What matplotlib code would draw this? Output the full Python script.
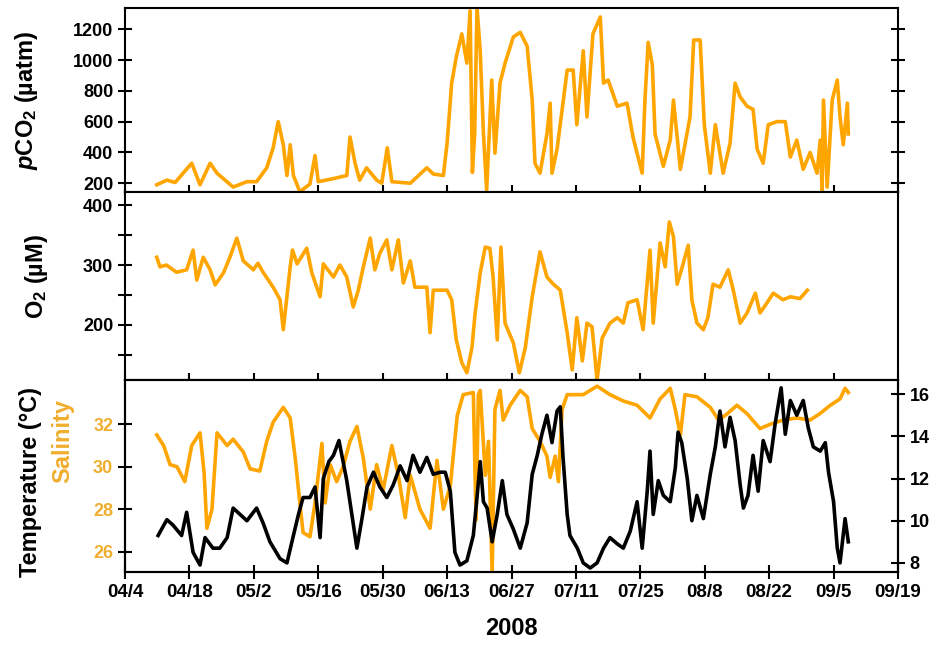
import numpy as np
import pandas as pd
import matplotlib
matplotlib.use("Agg")
import matplotlib.pyplot as plt

plt.rcParams['font.family'] = ['Liberation Sans', 'DejaVu Sans']
plt.rcParams['font.weight'] = 'bold'
plt.rcParams['axes.labelweight'] = 'bold'
plt.rcParams['mathtext.fontset'] = 'custom'
plt.rcParams['mathtext.rm'] = 'Liberation Sans:bold'
plt.rcParams['mathtext.it'] = 'Liberation Sans:bold:italic'
plt.rcParams['mathtext.bf'] = 'Liberation Sans:bold'

# --- data (days after 2008-04-04) ---
start = pd.Timestamp('2008-04-04')

pco2_day = [6.9, 9.1, 10.9, 14.5, 16.3, 18.5, 20, 23.5, 26.5, 28.6, 30.8, 32.2, 33.3, 34.4,
            35.2, 35.9, 36.6, 38, 40.2, 41.3, 42, 45.3, 48.2, 48.9, 50, 51, 52.5, 54.7, 55.8,
            57, 58, 62, 65.6, 67, 69.2, 70, 71, 72, 73.2, 74.3, 75, 75.5, 76, 76.5, 77.2, 77.9,
            78.6, 79.7, 80.4, 81.5, 82.6, 84.4, 85.9, 87.4, 88.5, 89.1, 90.2, 91.7, 92.4, 92.8,
            93.9, 96.1, 97.4, 98.2, 99.6, 100.4, 101.7, 103.3, 104, 105, 107, 109.1, 110.4,
            112.4, 113, 113.7, 114.6, 115.2, 117, 118.5, 119.2, 120.7, 122.8, 123.6, 125,
            125.9, 127.2, 128.3, 130, 131.5, 132.6, 133.7, 135.2, 136.5, 137.4, 138.7, 139.8,
            141.7, 143.5, 144.6, 146, 147.4, 148.9, 150.4, 151.1, 151.5, 151.8, 152.6, 153.7,
            154.8, 155.4, 156.1, 157, 157.2]
pco2_val = [190, 220, 205, 330, 190, 330, 265, 175, 210, 210, 300, 430, 600, 450,
            250, 450, 250, 145, 195, 380, 210, 230, 250, 500, 330, 220, 300, 220, 200,
            430, 210, 200, 300, 260, 250, 460, 850, 1020, 1170, 980, 1320, 270, 520, 1340, 1060, 525,
            155, 870, 395, 850, 980, 1150, 1180, 1090, 740, 330, 265, 520, 720, 265,
            420, 935, 935, 580, 1060, 630, 1170, 1280, 850, 870, 700, 720, 500,
            265, 740, 1115, 970, 520, 310, 480, 740, 290, 630, 1130, 1130,
            580, 265, 580, 265, 460, 850, 760, 700, 680, 420, 330, 580,
            600, 600, 370, 480, 290, 400, 265, 480, 155, 740, 175, 740,
            870, 630, 450, 720, 520]

o2_day = [6.9, 7.6, 9, 11.2, 13.4, 14.8, 15.6, 17, 18.5, 19.6, 21.4, 22.8, 24.3, 25.7, 27.9,
          28.9, 30, 32.2, 33.7, 34.4, 35.2, 35.9, 36.4, 37.4, 39.5, 40.6, 42.4, 43.1, 45.3,
          46.7, 48.2, 49.6, 50.7, 51.8, 53.3, 54.3, 55.4, 56.9, 58, 59.4, 60.5, 62, 63, 65.6,
          66.3, 67, 70, 71, 72, 73.2, 74.3, 75.4, 76.1, 77.2, 78.3, 79.3, 80, 80.9, 81.7,
          82.6, 84.4, 85.7, 87, 88.5, 90.2, 91.7, 93.1, 94.6, 96.1, 97.2, 98.2, 99.4, 100.4,
          101.5, 102.6, 103.7, 105.4, 107, 108.3, 109.3, 111.3, 112.6, 114.1, 114.8, 116.3,
          117.4, 118.3, 119.2, 120, 121.3, 122.4, 123.2, 124.3, 125.7, 126.7, 127.8, 129.3,
          131.1, 132.2, 133.7, 135.2, 137, 138, 139.1, 140.9, 143, 144.6, 146.7, 148.3]
o2_val = [313, 297, 300, 288, 292, 325, 275, 313, 292, 267, 287, 313, 345, 307, 292,
          303, 288, 263, 242, 192, 248, 297, 325, 302, 328, 287, 247, 302, 280,
          300, 280, 230, 258, 297, 345, 292, 320, 342, 292, 342, 270, 307, 263, 263,
          187, 258, 258, 242, 175, 137, 120, 162, 220, 287, 330, 328, 280, 175, 330,
          203, 170, 120, 162, 247, 322, 280, 268, 258, 187, 125, 212, 140, 203,
          197, 108, 178, 203, 212, 203, 237, 242, 192, 325, 203, 337,
          297, 372, 347, 268, 302, 333, 242, 203, 192, 213, 268, 263,
          292, 258, 203, 220, 253, 220, 232, 253, 242, 247, 244, 258]

sal_day = [6.9, 8.4, 9.8, 11.3, 13.0, 14.5, 16.3, 17.2, 17.8, 18.9, 20, 22.2, 23.5, 25.7,
           27.2, 29.3, 30.8, 32.2, 34.4, 35.9, 37, 38, 38.7, 40.2, 41.3, 42.8, 43.5, 44.6,
           46, 47.4, 48.9, 50.4, 51.8, 53.3, 54.7, 56.1, 58, 59.4, 60.9, 62, 64.1, 66.3,
           67.8, 69.2, 70.7, 72.2, 73.5, 75.7, 76.3, 76.8, 77.2, 78.3, 79, 79.8, 80.4, 81.5,
           82.2, 83.7, 85.9, 87.4, 88.5, 90.2, 91.7, 92.4, 93.5, 94.2, 95, 96.1, 99.6, 102.6,
           105.4, 108.3, 111.3, 114.1, 116.3, 118.5, 119.6, 120.7, 121.7, 124.3, 127.2, 129,
           130.9, 133, 135.2, 138, 140.2, 143, 146, 148.9, 151, 153.3, 155.4, 156.5, 157.2]
sal_val = [31.5, 31.0, 30.1, 30.0, 29.3, 31.0, 31.6, 29.7, 27.1, 28.0, 31.6, 31.0, 31.3, 30.7,
           29.9, 29.8, 31.2, 32.1, 32.8, 32.3, 30.4, 28.3, 26.9, 26.7, 28.3, 31.1, 28.3, 30.1,
           29.3, 30.0, 31.2, 31.9, 30.4, 28.0, 30.1, 28.9, 31.0, 29.6, 27.6, 29.6, 28.0, 27.1,
           30.3, 28.0, 29.1, 32.4, 33.4, 33.5, 27.5, 33.4, 33.6, 29.6, 31.2, 25.0, 32.7, 33.6,
           32.2, 32.9, 33.6, 33.3, 31.8, 31.2, 30.5, 29.5, 30.5, 29.3, 32.7, 33.4, 33.4, 33.8,
           33.4, 33.1, 32.9, 32.3, 33.2, 33.7, 32.7, 31.5, 33.4, 33.3, 32.8, 32.2,
           32.5, 32.9, 32.5, 31.8, 32.0, 32.2, 32.3, 32.2, 32.5, 32.9, 33.2, 33.7, 33.5]

temp_day = [7.2, 9.1, 10.4, 12.3, 13.4, 14.8, 16.3, 17.4, 19.1, 20.6, 22.2, 23.5, 25, 26.5,
            28.6, 30, 31.5, 33.7, 35.2, 36.6, 37.7, 38.7, 40.2, 41.3, 42.4, 43.1, 44.3, 45.3,
            46.5, 47.4, 48.2, 49.3, 50.4, 51.5, 52.6, 54, 55.4, 56.9, 58.3, 59.8, 61.3, 62.6,
            64.1, 65.6, 67, 68.5, 69.6, 70.7, 71.7, 72.8, 74.3, 75.7, 76.5, 77.2, 77.9, 78.7,
            79.8, 80.9, 82, 83, 84.4, 85.9, 87.4, 88.5, 89.6, 90.6, 91.7, 92.8, 93.9, 94.6,
            95.2, 96.1, 96.7, 98.3, 99.6, 101.1, 102.6, 104, 105.4, 107, 108.3, 109.8, 111.3,
            112.4, 113.5, 114.1, 114.8, 115.9, 117, 118.5, 119.6, 120.2, 121, 122.2, 123.2,
            124.3, 125.7, 127.2, 128.3, 129.3, 130.4, 131.5, 132.6, 133.7, 134.4, 135.4, 136.5,
            137.6, 138.7, 140.2, 141.3, 142.6, 143.5, 144.6, 146, 147.4, 148.5, 149.6, 151.1,
            152.2, 152.9, 154, 154.8, 155.4, 156.5, 157.2]
temp_val = [9.3, 10.05, 9.8, 9.3, 10.4, 8.5, 7.9, 9.2, 8.7, 8.7, 9.2, 10.6, 10.3, 10.0,
            10.6, 9.9, 9.0, 8.2, 8.0, 9.3, 10.3, 11.1, 11.1, 11.6, 9.2, 12.0, 12.8, 13.1,
            13.8, 12.8, 11.9, 10.3, 8.7, 10.1, 11.6, 12.3, 11.6, 11.1, 11.7, 12.6, 11.9, 13.1,
            12.3, 13.0, 12.2, 12.3, 12.3, 11.4, 8.5, 7.9, 8.1, 9.3, 11.1, 12.8, 10.9, 10.6,
            9.0, 10.3, 11.9, 10.3, 9.6, 8.7, 9.9, 12.2, 13.1, 14.1, 15.0, 13.7, 15.2, 15.4,
            13.0, 10.3, 9.3, 8.7, 8.0, 7.76, 8.0, 8.7, 9.2, 8.9, 8.7, 9.5, 10.9,
            8.7, 11.4, 13.3, 10.3, 11.9, 11.2, 10.9, 12.5, 14.2, 13.7, 12.0, 10.0,
            11.2, 10.1, 12.2, 13.5, 15.2, 13.5, 14.9, 13.8, 11.7, 10.6, 11.2, 13.1,
            11.4, 13.8, 12.8, 14.6, 16.3, 14.1, 15.7, 15.0, 15.7, 14.4, 13.5, 13.3,
            13.7, 12.3, 10.9, 8.7, 8.0, 10.1, 9.0]

tick_dates = pd.date_range('2008-04-04', periods=13, freq='14D')
tick_labels = [f"{d:%m}/{d.day}" for d in tick_dates]


def to_dates(days):
    return start + pd.to_timedelta(np.array(days), unit='D')


orange = '#FFA500'
label_orange = '#F0AE2E'
lw = 2.6

fig = plt.figure(figsize=(9.46, 6.57), dpi=100)
left, width = 125 / 946, 773 / 946
ax1 = fig.add_axes([left, 1 - 192 / 657, width, 184 / 657])
ax2 = fig.add_axes([left, 1 - 380 / 657, width, 188 / 657])
ax3 = fig.add_axes([left, 1 - 572 / 657, width, 192 / 657])
ax3r = ax3.twinx()

ax1.plot(to_dates(pco2_day), pco2_val, color=orange, lw=lw)
ax2.plot(to_dates(o2_day), o2_val, color=orange, lw=lw)
ax3r.plot(to_dates(temp_day), temp_val, color='black', lw=lw)
ax3.plot(to_dates(sal_day), sal_val, color=orange, lw=lw)

xlim = (tick_dates[0], tick_dates[-1])
for ax in (ax1, ax2, ax3, ax3r):
    ax.set_xlim(xlim)
    ax.set_xticks(tick_dates)
    for s in ax.spines.values():
        s.set_linewidth(1.5)
    ax.tick_params(direction='inout', length=10, width=1.5, labelsize=13)

ax1.set_xticklabels([])
ax2.set_xticklabels([])
ax3.set_xticklabels(tick_labels, fontsize=13.5)

ax1.set_ylim(143, 1338)
ax1.set_yticks([200, 400, 600, 800, 1000, 1200])
ax1.tick_params(axis='y', right=True, labelright=False)

ax2.set_ylim(108, 422)
ax2.set_yticks([200, 300, 400])
ax2.set_yticks([150, 250, 350], minor=True)
ax2.tick_params(axis='y', which='minor', direction='inout', length=10, width=1.5)

ax3.set_ylim(25.04, 34.09)
ax3.set_yticks([26, 28, 30, 32])
ax3.tick_params(axis='y', labelcolor=label_orange)
ax3r.set_ylim(7.57, 16.67)
ax3r.set_yticks([8, 10, 12, 14, 16])

ax1.text(-0.128, 0.5, r'$p$CO$_{\mathrm{2}}$ (µatm)', transform=ax1.transAxes,
         rotation=90, ha='center', va='center', fontsize=17)
ax2.text(-0.115, 0.55, r'O$_{\mathrm{2}}$ (µM)', transform=ax2.transAxes,
         rotation=90, ha='center', va='center', fontsize=17)
ax3.text(-0.122, 0.47, 'Temperature (°C)', transform=ax3.transAxes,
         rotation=90, ha='center', va='center', fontsize=17)
ax3.text(-0.081, 0.68, 'Salinity', transform=ax3.transAxes, color=label_orange,
         rotation=90, ha='center', va='center', fontsize=17)
ax3.set_xlabel('2008', fontsize=17, fontweight='bold', labelpad=12)

fig.savefig('out.png', dpi=100)
